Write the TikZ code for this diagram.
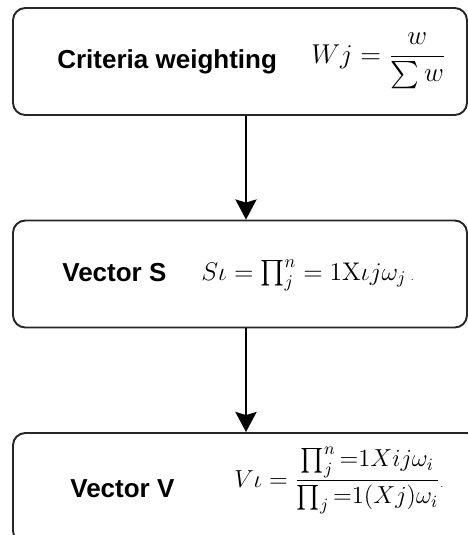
\RequirePackage{fix-cm}
\documentclass[tikz,border=0pt]{standalone}
\usepackage{amsmath,amssymb}
\usepackage{fontspec}
\setsansfont{Liberation Sans}
\usetikzlibrary{arrows.meta,positioning,calc}
\tikzset{
  stage/.style={rectangle, draw=black!85, line width=1.1pt, rounded corners=7pt,
                minimum width=9.08cm, minimum height=2.14cm, inner sep=0pt},
  title/.style={font=\sffamily\bfseries\fontsize{14.8}{17}\selectfont, inner sep=0pt, anchor=base west},
  formula/.style={font=\fontsize{#1}{20}\selectfont, inner sep=0pt, anchor=base west},
  arrowline/.style={-{Stealth[length=4mm,width=4.2mm,inset=0.6mm]}, line width=1.5pt}
}

\begin{document}
\begin{tikzpicture}
\useasboundingbox (0,0) rectangle (9.36,-10.7);

\node[stage] (crit) at (4.80,-1.23) {};
\node[stage] (vecS) at (4.80,-5.48) {};
\node[stage, minimum width=9.32cm, minimum height=2.2cm] (vecV) at (4.92,-9.76) {};

\node[title] (critT) at (1.14,-1.36) {Criteria weighting};
\node[formula=15.5] (critF) at (6.22,-1.26) {$Wj = \dfrac{w}{\sum w}$};

\node[title] (vecST) at (1.24,-5.62) {Vector S};
\node[formula=14.5] (vecSF) at (4.02,-5.60) {$S\iota = \prod_{j}^{n} = 1\mathrm{X}\iota j\omega_j$\,{\tiny.}};

\node[title] (vecVT) at (1.40,-9.94) {Vector V};
\node[formula=14] (vecVF) at (4.68,-9.74) {$V\iota = \dfrac{\prod_{j}^{n}{=}1Xij\omega_i}{\prod_{j}{=}1(Xj)\omega_i}${\tiny.}};

\draw[arrowline] (crit.south -| vecV.north) -- (vecS.north -| vecV.north);
\draw[arrowline] (vecS.south -| vecV.north) -- (vecV.north);
\end{tikzpicture}
\end{document}
